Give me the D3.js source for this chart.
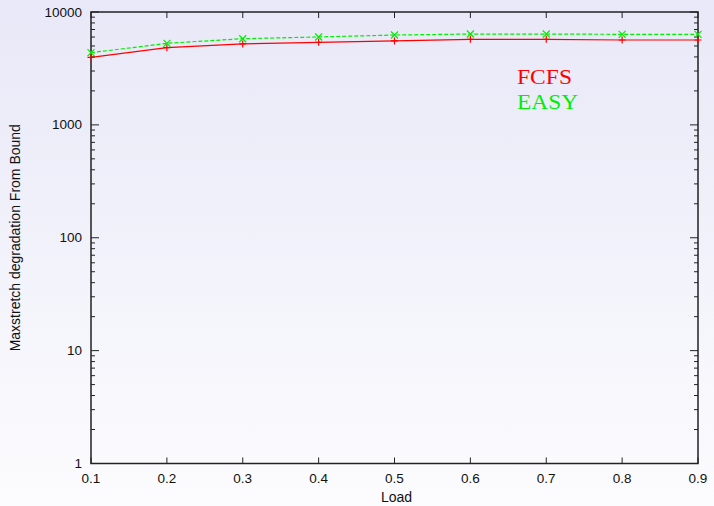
<!DOCTYPE html>
<html><head><meta charset="utf-8">
<script src="https://cdn.jsdelivr.net/npm/d3@7"></script>
<style>html,body{margin:0;padding:0;}svg{display:block;}</style>
</head><body>
<script>
const loads = [0.1,0.2,0.3,0.4,0.5,0.6,0.7,0.8,0.9];
const fcfs = [3970,4830,5210,5390,5540,5730,5730,5650,5650];
const easy = [4360,5280,5800,6010,6250,6380,6380,6340,6340];
const xTicks = [0.1,0.2,0.3,0.4,0.5,0.6,0.7,0.8,0.9];
const yTicks = [1,10,100,1000,10000];
const seriesNames = ["FCFS","EASY"];

const W=714,H=506;
const m={l:91,r:698,t:12,b:463.5};
const svg=d3.select("body").append("svg").attr("width",W).attr("height",H);
const defs=svg.append("defs");
const g=defs.append("linearGradient").attr("id","bg").attr("x1",0).attr("y1",0).attr("x2",0).attr("y2",1);
g.append("stop").attr("offset","0%").attr("stop-color","#e8e8f8");
g.append("stop").attr("offset","100%").attr("stop-color","#fcfcfe");
svg.append("rect").attr("width",W).attr("height",H).attr("fill","url(#bg)");

const x=d3.scaleLinear().domain([0.1,0.9]).range([m.l,m.r]);
const y=d3.scaleLog().domain([1,10000]).range([m.b,m.t]);

const minor=[];
for(let d=1;d<10000;d*=10){for(let k=2;k<=9;k++)minor.push(d*k);}
const tg=svg.append("g").attr("stroke","#222").attr("stroke-width",1);
minor.forEach(v=>{
  tg.append("line").attr("x1",m.l).attr("x2",m.l+4).attr("y1",y(v)).attr("y2",y(v));
  tg.append("line").attr("x1",m.r).attr("x2",m.r-4).attr("y1",y(v)).attr("y2",y(v));
});
yTicks.forEach(v=>{
  tg.append("line").attr("x1",m.l).attr("x2",m.l+8).attr("y1",y(v)).attr("y2",y(v));
  tg.append("line").attr("x1",m.r).attr("x2",m.r-8).attr("y1",y(v)).attr("y2",y(v));
});
xTicks.forEach(v=>{
  tg.append("line").attr("x1",x(v)).attr("x2",x(v)).attr("y1",m.b).attr("y2",m.b-6);
  tg.append("line").attr("x1",x(v)).attr("x2",x(v)).attr("y1",m.t).attr("y2",m.t+6);
});
svg.append("rect").attr("x",m.l).attr("y",m.t).attr("width",m.r-m.l).attr("height",m.b-m.t)
  .attr("fill","none").attr("stroke","#222").attr("stroke-width",1.5);

const font="'Liberation Sans', Arial, sans-serif";
svg.append("g").selectAll("text").data(yTicks).join("text")
  .attr("x",m.l-9).attr("y",d=>y(d)+4.5).attr("text-anchor","end")
  .attr("font-family",font).attr("font-size",13.5).attr("fill","#111").text(d=>d);
svg.append("g").selectAll("text").data(xTicks).join("text")
  .attr("x",d=>x(d)).attr("y",m.b+19).attr("text-anchor","middle")
  .attr("font-family",font).attr("font-size",13.5).attr("fill","#111").text(d=>d.toFixed(1));
svg.append("text").attr("x",(m.l+m.r)/2+2).attr("y",502).attr("text-anchor","middle")
  .attr("font-family",font).attr("font-size",14).attr("fill","#111").text("Load");
svg.append("text").attr("transform",`translate(20,${(m.t+m.b)/2}) rotate(-90)`).attr("text-anchor","middle")
  .attr("font-family",font).attr("font-size",14).attr("fill","#111").text("Maxstretch degradation From Bound");

const line=d3.line().x((d,i)=>x(loads[i])).y(d=>y(d));
svg.append("path").datum(fcfs).attr("d",line).attr("fill","none").attr("stroke","#ff0000").attr("stroke-width",1.2);
svg.append("path").datum(easy).attr("d",line).attr("fill","none").attr("stroke","#00ee00").attr("stroke-width",1.2).attr("stroke-dasharray","4,2");

const s=3.5;
svg.append("g").selectAll("path").data(fcfs).join("path")
  .attr("d",(d,i)=>{const cx=x(loads[i]),cy=y(d);return `M${cx-s},${cy}H${cx+s}M${cx},${cy-s}V${cy+s}`;})
  .attr("stroke","#ff0000").attr("stroke-width",1.2);
svg.append("g").selectAll("path").data(easy).join("path")
  .attr("d",(d,i)=>{const cx=x(loads[i]),cy=y(d);return `M${cx-s},${cy-s}L${cx+s},${cy+s}M${cx-s},${cy+s}L${cx+s},${cy-s}`;})
  .attr("stroke","#00ee00").attr("stroke-width",1.2);

const lf="'Liberation Serif','Times New Roman',serif";
svg.append("text").attr("x",517).attr("y",84).attr("font-family",lf).attr("font-size",21)
  .attr("textLength",55).attr("lengthAdjust","spacingAndGlyphs").attr("fill","#ff0000").text(seriesNames[0]);
svg.append("text").attr("x",517).attr("y",108.5).attr("font-family",lf).attr("font-size",21)
  .attr("textLength",61).attr("lengthAdjust","spacingAndGlyphs").attr("fill","#00ee00").text(seriesNames[1]);
</script>
</body></html>
